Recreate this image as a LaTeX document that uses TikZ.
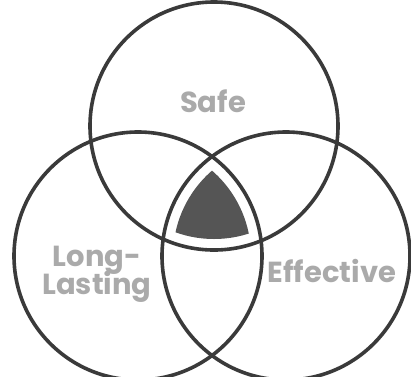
\documentclass[tikz,border=0pt]{standalone}
\usepackage{fontspec}
\newfontfamily\vennfont{Poppins}
\usetikzlibrary{positioning}
\definecolor{ringgray}{RGB}{58, 58, 58}
\definecolor{corefill}{RGB}{85, 85, 85}
\definecolor{labelgray}{RGB}{170, 170, 170}

\begin{document}
\begin{tikzpicture}[x=1pt, y=-1pt,
                ring/.style={circle, draw=ringgray, line width=3.6pt,
                    minimum size=248pt, inner sep=0pt},
                venntext/.style={text=labelgray, font=\vennfont\bfseries\fontsize{29}{30}\selectfont,
                    align=center, inner sep=0pt}
            ]
            \useasboundingbox (0, 0) rectangle (411, 376);

            % the three sets
            \node[ring] (safe) at (214, 126) {};
            \node[ring] (lasting) at (138, 256) {};
            \node[ring] (effective) at (286, 256) {};

            % common core, set back from the rings
            \begin{scope}
                \clip (safe.center) circle (113);
                \clip (lasting.center) circle (113);
                \fill[corefill] (effective.center) circle (113);
            \end{scope}

            \node[venntext] (safelbl) at (213, 101) {Safe};
            \node[venntext] (lastinglbl) at (97, 274) {Long-\\[-4pt]Lasting};
            \node[venntext] (effectivelbl) at (332, 271) {Effective};

            \end{tikzpicture}
\end{document}
